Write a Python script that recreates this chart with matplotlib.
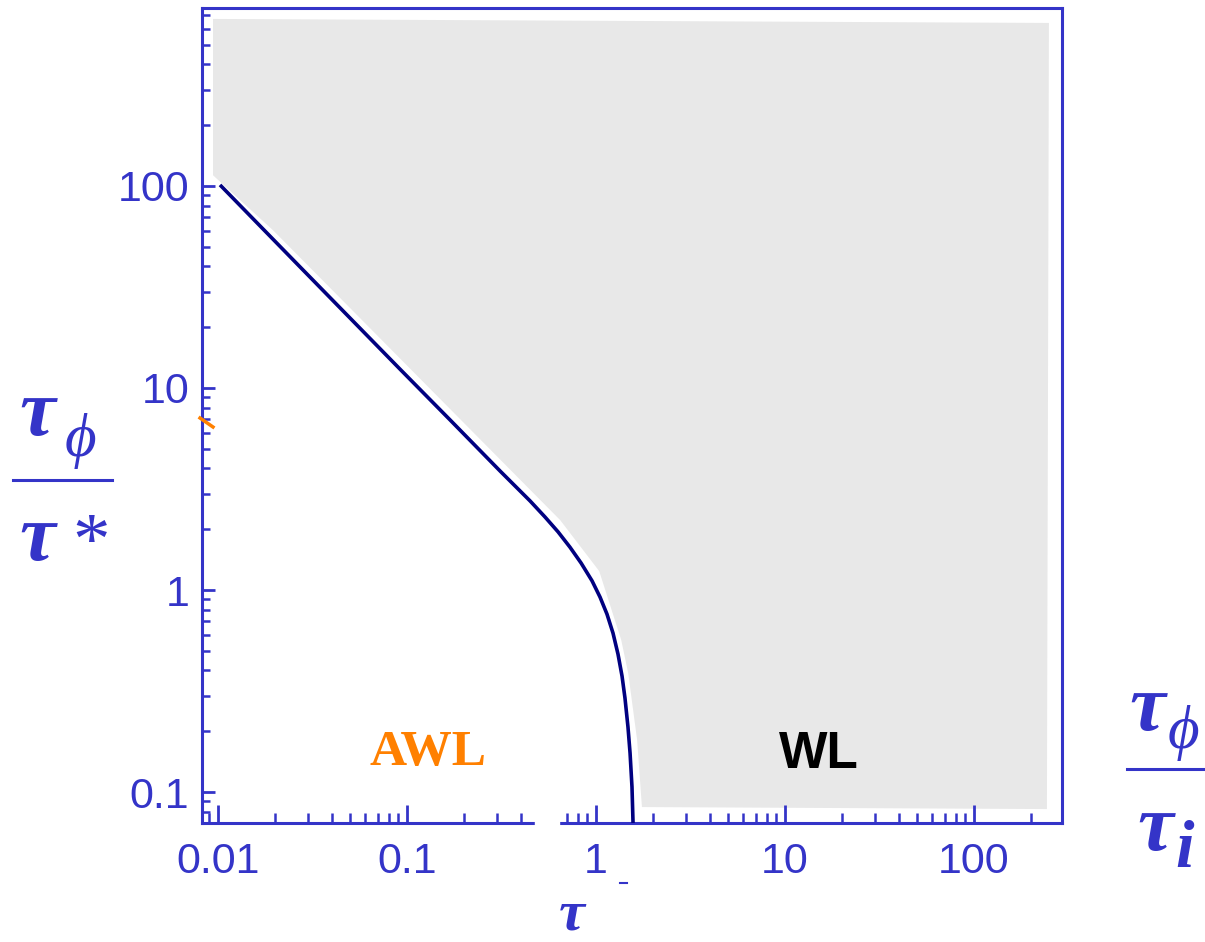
import numpy as np
import matplotlib
matplotlib.use("Agg")
import matplotlib.pyplot as plt
from matplotlib.lines import Line2D
from matplotlib.patches import Rectangle
from matplotlib.ticker import FixedLocator, FixedFormatter, LogLocator, NullFormatter

# boundary curve between AWL and WL regimes (tau_phi/tau_i, tau_phi/tau*)
curve_x = [0.01025, 0.0272, 0.0918, 0.169, 0.311, 0.448, 0.537, 0.630, 0.728,
           0.834, 0.953, 1.05, 1.143, 1.23, 1.307, 1.373, 1.423, 1.476, 1.514,
           1.55, 1.57]
curve_y = [101.2, 39.7, 12.4, 6.95, 3.88, 2.76, 2.30, 1.94, 1.63,
           1.36, 1.11, 0.923, 0.760, 0.612, 0.482, 0.375, 0.292, 0.210, 0.156,
           0.106, 0.0703]

# shaded WL region outline
wl_x = [0.00941, 0.00941, 0.0195, 0.646, 1.04, 1.36, 1.48, 1.65, 1.75, 243, 249]
wl_y = [671, 113, 60.5, 2.22, 1.24, 0.565, 0.388, 0.181, 0.0843, 0.0824, 641]

x_ticks = [0.01, 0.1, 1, 10, 100]
x_labels = ["0.01", "0.1", "1", "10", "100"]
y_ticks = [0.1, 1, 10, 100]
y_labels = ["0.1", "1", "10", "100"]

BLUE = "#3434c8"
NAVY = "#000080"
ORANGE = "#ff8000"
W, H = 1205, 942


def fx(p):
    return p / W


def fy(p):
    return 1 - p / H


fig = plt.figure(figsize=(W / 100, H / 100), dpi=100)
ax = fig.add_axes([fx(202), fy(823), (1062 - 202) / W, (823 - 8) / H])

ax.fill(wl_x, wl_y, color="#e8e8e8", lw=0, zorder=1)
ax.plot(curve_x, curve_y, color=NAVY, lw=2.6, zorder=3,
        solid_capstyle="butt", solid_joinstyle="round")

ax.set_xscale("log")
ax.set_yscale("log")
ax.set_xlim(0.00823, 292)
ax.set_ylim(0.0703, 760)

ax.xaxis.set_major_locator(FixedLocator(x_ticks))
ax.xaxis.set_major_formatter(FixedFormatter(x_labels))
ax.yaxis.set_major_locator(FixedLocator(y_ticks))
ax.yaxis.set_major_formatter(FixedFormatter(y_labels))
ax.xaxis.set_minor_locator(LogLocator(base=10, subs=np.arange(2, 10), numticks=60))
ax.yaxis.set_minor_locator(LogLocator(base=10, subs=np.arange(2, 10), numticks=60))
ax.xaxis.set_minor_formatter(NullFormatter())
ax.yaxis.set_minor_formatter(NullFormatter())

for s in ax.spines.values():
    s.set_color(BLUE)
    s.set_linewidth(2.2)

ax.tick_params(which="both", direction="in", top=False, right=False,
               color=BLUE, labelcolor=BLUE)
ax.tick_params(axis="x", which="major", length=13, width=2, pad=14)
ax.tick_params(axis="x", which="minor", length=7, width=1.8)
ax.tick_params(axis="y", which="major", length=9.5, width=2, pad=9)
ax.tick_params(axis="y", which="minor", length=5.5, width=1.8)
for lab in ax.get_xticklabels() + ax.get_yticklabels():
    lab.set_fontfamily("Liberation Sans")
    lab.set_fontsize(31)

# region labels
ax.text(0.129, 0.136, "AWL", color=ORANGE, fontsize=37, fontweight="bold",
        family="Liberation Serif", ha="center", va="baseline")
ax.text(15.1, 0.132, "WL", color="black", fontsize=37, fontweight="bold",
        family="Liberation Sans", ha="center", va="baseline")

# y axis label: tau_phi / tau*
serif = ["Liberation Serif", "DejaVu Serif"]
fig.text(fx(37), fy(435), "τ", color=BLUE, fontsize=58, family=serif,
         style="italic", fontweight="bold", ha="center", va="baseline")
fig.text(fx(80), fy(456), "ϕ", color=BLUE, fontsize=44, family=serif,
         style="italic", ha="center", va="baseline")
fig.add_artist(Line2D([fx(13), fx(112)], [fy(480), fy(480)], color=BLUE, lw=2.2))
fig.text(fx(37), fy(560), "τ", color=BLUE, fontsize=58, family=serif,
         style="italic", fontweight="bold", ha="center", va="baseline")
fig.text(fx(91), fy(564), "*", color=BLUE, fontsize=54, family=serif,
         ha="center", va="baseline")

# x axis label: tau_phi / tau_i
fig.text(fx(1147), fy(730), "τ", color=BLUE, fontsize=58, family=serif,
         style="italic", fontweight="bold", ha="center", va="baseline")
fig.text(fx(1183), fy(748), "ϕ", color=BLUE, fontsize=44, family=serif,
         style="italic", ha="center", va="baseline")
fig.add_artist(Line2D([fx(1127), fx(1205)], [fy(769), fy(769)], color=BLUE, lw=2.2))
fig.text(fx(1155), fy(850), "τ", color=BLUE, fontsize=58, family=serif,
         style="italic", fontweight="bold", ha="center", va="baseline")
fig.text(fx(1185), fy(867), "i", color=BLUE, fontsize=48, family=serif,
         style="italic", fontweight="bold", ha="center", va="baseline")

# stray pieces of the original export
fig.text(fx(572), fy(929), "τ", color=BLUE, fontsize=42, family=serif,
         style="italic", fontweight="bold", ha="center", va="baseline")
fig.add_artist(Rectangle((fx(535), fy(831)), (559 - 535) / W, 21 / H,
                         transform=fig.transFigure, color="white", zorder=10))
fig.add_artist(Line2D([fx(200), fx(213)], [fy(418), fy(427)], color=ORANGE, lw=2.5))
fig.add_artist(Line2D([fx(620), fx(627)], [fy(883), fy(883)], color=BLUE, lw=1.5))

fig.savefig("out.png", dpi=100, facecolor="white")
